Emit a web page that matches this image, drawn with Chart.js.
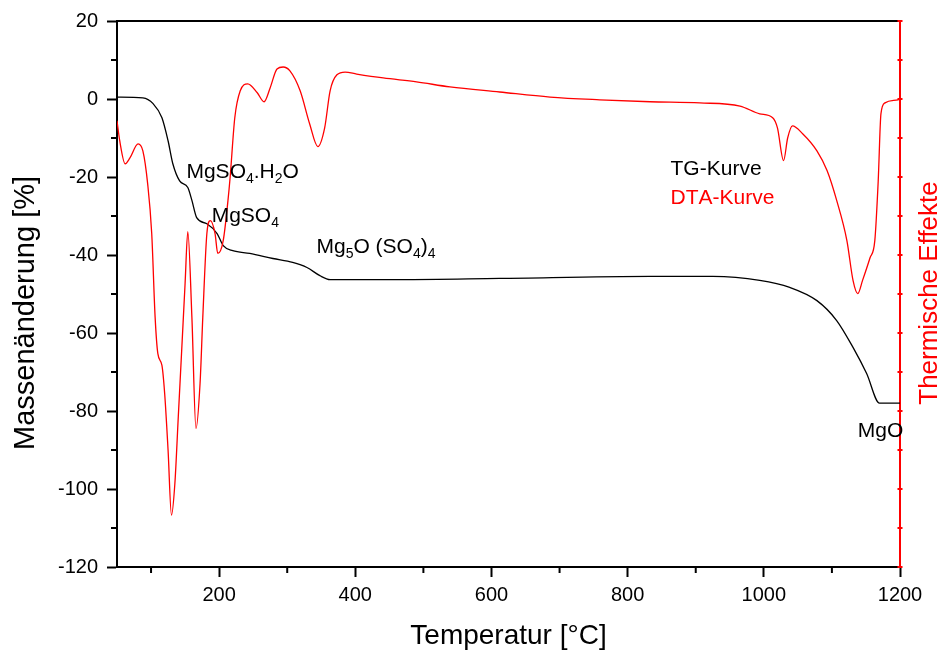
<!DOCTYPE html>
<html>
<head>
<meta charset="utf-8">
<script src="https://cdn.jsdelivr.net/npm/chart.js@4.4.0/dist/chart.umd.min.js"></script>
<style>
html, body { margin: 0; padding: 0; background: #fff; }
canvas { display: block; }
</style>
</head>
<body>
<canvas id="tg-dta" width="945" height="657"></canvas>
<script>
// TG curve (mass change, %)
const tgTemp = [50, 88, 103, 116, 125, 132, 142, 154, 160, 167, 182, 197, 206, 220, 245, 279, 308, 329, 348, 363, 466, 612, 833, 925, 994, 1038, 1078, 1107, 1131, 1151, 1170, 1200];
const tgMass = [0.5, 0.3, -1.2, -4.8, -10.7, -16.6, -21, -22.7, -26, -30.4, -32, -34.5, -37.6, -38.9, -39.6, -40.9, -41.9, -43.2, -45.3, -46.3, -46.3, -46, -45.5, -45.5, -46.5, -48.3, -51.7, -56.8, -63.7, -70.4, -78, -78];

// DTA curve (thermal effects, arbitrary units read against the left scale)
const dtaTemp = [50, 54, 62, 69, 81, 88, 95, 101, 106, 110, 116, 120, 125, 130, 135, 140, 145, 150, 154, 160, 166, 172, 176, 182, 187, 194, 198, 206, 213, 216, 223, 231, 242, 256, 266, 275, 285, 294, 304, 319, 333, 345, 355, 363, 373, 385, 402, 441, 490, 539, 612, 686, 759, 833, 906, 965, 994, 1013, 1020, 1029, 1035, 1042, 1057, 1078, 1093, 1107, 1122, 1131, 1138, 1145, 1156, 1163, 1168, 1172, 1178, 1197, 1200];
const dtaVal = [-5.6, -10.7, -16.6, -15.1, -11.5, -13.3, -21.7, -34.5, -56, -65.3, -68.3, -75.5, -90, -106.7, -98.6, -81.5, -64.5, -47.3, -34, -56, -84.5, -72.9, -56, -34.5, -31.2, -34.5, -39.6, -36.3, -26, -20.4, -4.8, 2.1, 3.9, 1.6, -0.7, 2.9, 7.7, 8.2, 7.2, 2.1, -6.4, -12.2, -7.4, 2.1, 6.2, 6.9, 6.4, 5.4, 4.4, 3.1, 1.8, 0.5, -0.2, -0.7, -1, -1.8, -3.8, -4.8, -7.4, -15.8, -10, -6.9, -8.9, -13.3, -18.4, -26, -36.3, -46.5, -49.9, -46.5, -40.7, -36.3, -21, -3.8, -1, -0.2, 0];

// ticks
const xTicks = [200, 400, 600, 800, 1000, 1200];
const xMinor = [100, 300, 500, 700, 900, 1100];
const yTicks = [20, 0, -20, -40, -60, -80, -100, -120];
const yMinor = [10, -10, -30, -50, -70, -90, -110];
const y2Ticks = [20, 10, 0, -10, -20, -30, -40, -50, -60, -70, -80, -90, -100, -110, -120];

// labels in the plot ("_" marks a subscript character)
const notes = [
    { text: 'MgSO_4.H_2O', x: 152, y: -20.2, color: '#000' },
    { text: 'MgSO_4', x: 189, y: -31.6, color: '#000' },
    { text: 'Mg_5O (SO_4)_4', x: 343, y: -39.6, color: '#000' },
    { text: 'TG-Kurve', x: 863, y: -19.4, color: '#000' },
    { text: 'DTA-Kurve', x: 863, y: -26.8, color: '#ff0000' },
    { text: 'MgO', x: 1138, y: -86.7, color: '#000' }
];

const FONT = "'Liberation Sans', Arial, sans-serif";
Chart.defaults.font.family = FONT;
Chart.defaults.color = '#000';

function drawRich(ctx, text, x, y, color) {
    ctx.fillStyle = color;
    ctx.textBaseline = 'alphabetic';
    ctx.textAlign = 'left';
    let cx = x;
    for (let i = 0; i < text.length; i++) {
        let ch = text[i];
        let sub = false;
        if (ch === '_') { sub = true; i++; ch = text[i]; }
        ctx.font = (sub ? '14px ' : '21px ') + FONT;
        ctx.fillText(ch, cx, sub ? y + 5 : y);
        cx += ctx.measureText(ch).width;
    }
}

function verticalTitle(ctx, text, x, y, size, color) {
    ctx.save();
    ctx.translate(x, y);
    ctx.rotate(-Math.PI / 2);
    ctx.fillStyle = color;
    ctx.font = size + 'px ' + FONT;
    ctx.textAlign = 'center';
    ctx.textBaseline = 'middle';
    ctx.fillText(text, 0, 0);
    ctx.restore();
}

const decorations = {
    id: 'decorations',
    afterDraw(chart) {
        const { ctx, chartArea: a, scales: { x, y, y2 } } = chart;
        const line = (x1, y1, x2, y2_) => {
            ctx.beginPath(); ctx.moveTo(x1, y1); ctx.lineTo(x2, y2_); ctx.stroke();
        };
        ctx.save();
        ctx.strokeStyle = '#000';
        ctx.lineWidth = 2;
        line(a.left - 1, a.top, a.right, a.top);
        xMinor.forEach(v => {
            const px = x.getPixelForValue(v);
            line(px, a.bottom, px, a.bottom + 6);
        });
        yMinor.forEach(v => {
            const py = y.getPixelForValue(v);
            line(a.left - 6, py, a.left, py);
        });

        ctx.strokeStyle = '#ff0000';
        y2Ticks.forEach(v => {
            const py = y2.getPixelForValue(v);
            line(a.right - 2.5, py, a.right + 2.5, py);
        });

        verticalTitle(ctx, 'Massenänderung [%]', 26, 313, 29, '#000');
        verticalTitle(ctx, 'Thermische Effekte', 930, 293, 26, '#ff0000');

        notes.forEach(n => {
            drawRich(ctx, n.text, x.getPixelForValue(n.x), y.getPixelForValue(n.y), n.color);
        });
        ctx.restore();
    }
};

new Chart(document.getElementById('tg-dta'), {
    type: 'line',
    data: {
        datasets: [{
            label: 'DTA-Kurve',
            data: dtaTemp.map((t, i) => ({ x: t, y: dtaVal[i] })),
            borderColor: '#ff0000',
            borderWidth: 1.3,
            pointRadius: 0,
            cubicInterpolationMode: 'monotone',
            yAxisID: 'y2'
        }, {
            label: 'TG-Kurve',
            data: tgTemp.map((t, i) => ({ x: t, y: tgMass[i] })),
            borderColor: '#000',
            borderWidth: 1.3,
            pointRadius: 0,
            cubicInterpolationMode: 'monotone',
            yAxisID: 'y'
        }]
    },
    options: {
        responsive: false,
        devicePixelRatio: 1,
        animation: false,
        layout: { padding: { top: 20, left: 0, right: 0, bottom: 0 } },
        plugins: { legend: { display: false }, tooltip: { enabled: false } },
        scales: {
            x: {
                type: 'linear',
                min: 50,
                max: 1200,
                afterBuildTicks: s => { s.ticks = xTicks.map(v => ({ value: v })); },
                afterFit: s => { s.height = 90; },
                grid: { drawOnChartArea: false, tickLength: 10, tickWidth: 2, tickColor: '#000' },
                border: { color: '#000', width: 2 },
                ticks: { font: { size: 20 }, padding: 6, maxRotation: 0, color: '#000', callback: v => String(v) },
                title: { display: true, text: 'Temperatur [°C]', font: { size: 28 }, color: '#000', padding: { top: 0, bottom: 4 } }
            },
            y: {
                position: 'left',
                min: -120,
                max: 20,
                afterBuildTicks: s => { s.ticks = yTicks.map(v => ({ value: v })); },
                afterFit: s => { s.width = 117; },
                grid: { drawOnChartArea: false, tickLength: 10, tickWidth: 2, tickColor: '#000' },
                border: { color: '#000', width: 2 },
                ticks: { font: { size: 20 }, padding: 9, color: '#000', callback: v => String(v) }
            },
            y2: {
                position: 'right',
                min: -120,
                max: 20,
                afterFit: s => { s.width = 45; },
                grid: { display: false },
                border: { color: '#ff0000', width: 2 },
                ticks: { display: false }
            }
        }
    },
    plugins: [decorations]
});
</script>
</body>
</html>
